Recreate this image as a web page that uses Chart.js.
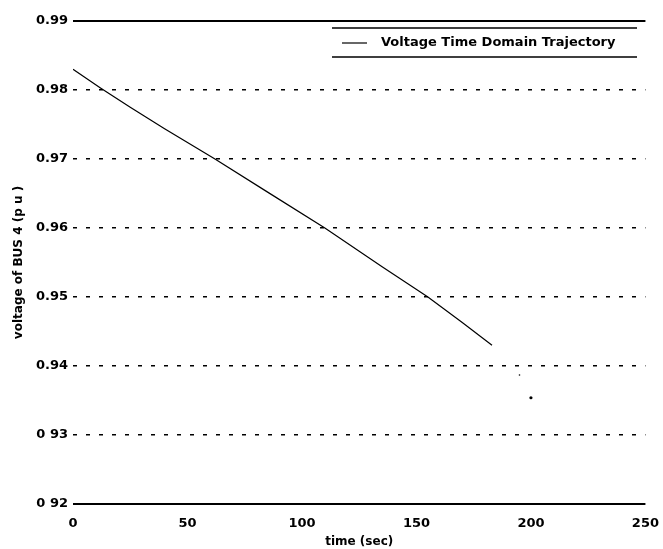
<!DOCTYPE html>
<html>
<head>
<meta charset="utf-8">
<script src="https://cdn.jsdelivr.net/npm/chart.js@4.4.1/dist/chart.umd.min.js"></script>
<style>
  html, body { margin: 0; padding: 0; background: #fff; }
  #wrap { width: 663px; height: 549px; }
</style>
</head>
<body>
<div id="wrap"><canvas id="myChart"></canvas></div>
<script>
// values
var timeSec = [0, 12, 25, 40, 62, 85, 110, 135, 155, 170, 183];
var voltage = [0.983, 0.9803, 0.9775, 0.9744, 0.970, 0.9652, 0.960, 0.9544, 0.950, 0.9463, 0.943];
var strayTime = [195, 200];
var strayVoltage = [0.9387, 0.9354];
var yTickValues = [0.92, 0.93, 0.94, 0.95, 0.96, 0.97, 0.98, 0.99];
var yTickLabels = ["0 92", "0 93", "0.94", "0.95", "0.96", "0.97", "0.98", "0.99"];
var xTickValues = [0, 50, 100, 150, 200, 250];
var legendLabel = "Voltage Time Domain Trajectory";

var FONT = "'DejaVu Sans', 'Liberation Sans', sans-serif";

function toPoints(xs, ys) {
    return xs.map(function (x, i) { return { x: x, y: ys[i] }; });
}

// top/bottom frame lines and the boxed legend
var framePlugin = {
    id: 'frame',
    afterDraw: function (chart) {
        var a = chart.chartArea;
        var c = chart.ctx;
        c.save();
        c.strokeStyle = '#000';
        c.lineWidth = 2;
        c.beginPath();
        c.moveTo(a.left, a.top); c.lineTo(a.right, a.top);
        c.moveTo(a.left, a.bottom); c.lineTo(a.right, a.bottom);
        c.stroke();

        // legend box (top and bottom rules only)
        var lx0 = 332, lx1 = 637, ly0 = 28, ly1 = 57;
        c.lineWidth = 1.5;
        c.beginPath();
        c.moveTo(lx0, ly0); c.lineTo(lx1, ly0);
        c.moveTo(lx0, ly1); c.lineTo(lx1, ly1);
        c.stroke();
        c.lineWidth = 1.2;
        c.beginPath();
        c.moveTo(342, 43); c.lineTo(367, 43);
        c.stroke();
        c.fillStyle = '#000';
        c.font = "bold 13px " + FONT;
        c.textBaseline = 'middle';
        c.textAlign = 'left';
        c.fillText(legendLabel, 381, 43);
        c.restore();
    }
};

var ctx = document.getElementById('myChart');
var myChart = new Chart(ctx, {
    type: 'scatter',
    data: {
        datasets: [{
            label: legendLabel,
            data: toPoints(timeSec, voltage),
            showLine: true,
            borderColor: '#000',
            borderWidth: 1.2,
            pointRadius: 0,
            tension: 0
        },
        {
            label: 'stray',
            data: toPoints(strayTime, strayVoltage),
            showLine: false,
            pointRadius: [0.8, 1.6],
            backgroundColor: '#000',
            borderWidth: 0
        }]
    },
    options: {
        responsive: true,
        maintainAspectRatio: false,
        animation: false,
        layout: { padding: { top: 21, right: 16, left: 12, bottom: 0 } },
        plugins: {
            legend: { display: false },
            tooltip: { enabled: false }
        },
        scales: {
            x: {
                type: 'linear',
                min: 0,
                max: 250,
                afterBuildTicks: function (axis) {
                    axis.ticks = xTickValues.map(function (v) { return { value: v }; });
                },
                afterFit: function (axis) { axis.height = 45; },
                grid: { display: false },
                border: { display: false },
                ticks: {
                    color: '#000',
                    padding: 4,
                    maxRotation: 0,
                    font: { family: FONT, size: 13, weight: 'bold' }
                },
                title: {
                    display: true,
                    text: 'time (sec)',
                    color: '#000',
                    padding: { top: 1, bottom: 0 },
                    font: { family: FONT, size: 12, weight: 'bold' }
                }
            },
            y: {
                min: 0.92,
                max: 0.99,
                afterBuildTicks: function (axis) {
                    axis.ticks = yTickValues.map(function (v) { return { value: v }; });
                },
                afterFit: function (axis) { axis.width = 61; },
                grid: {
                    drawTicks: false,
                    lineWidth: 1.6,
                    color: function (c) {
                        var v = c.tick ? c.tick.value : null;
                        if (v === 0.92 || v === 0.99) return 'rgba(0,0,0,0)';
                        return '#000';
                    }
                },
                border: { display: false, dash: [4, 9] },
                ticks: {
                    color: '#000',
                    padding: 5,
                    font: { family: FONT, size: 13, weight: 'bold' },
                    callback: function (value) {
                        var i = yTickValues.findIndex(function (t) { return Math.abs(t - value) < 1e-6; });
                        return i >= 0 ? yTickLabels[i] : '';
                    }
                },
                title: {
                    display: true,
                    text: 'voltage of BUS 4 (p u )',
                    color: '#000',
                    padding: { top: 0, bottom: 0 },
                    font: { family: FONT, size: 12, weight: 'bold' }
                }
            }
        }
    },
    plugins: [framePlugin]
});
</script>
</body>
</html>
